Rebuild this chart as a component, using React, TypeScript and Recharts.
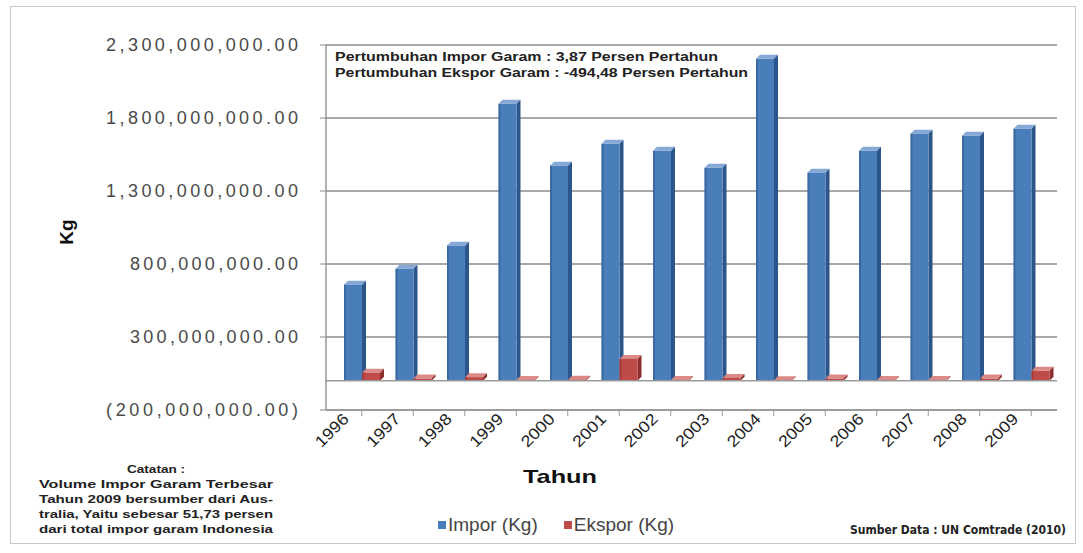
import React from 'react';
import {
  BarChart,
  Bar,
  XAxis,
  YAxis,
  CartesianGrid,
  ReferenceLine,
  Legend,
} from 'recharts';

// Tahun (categories)
const years = ['1996', '1997', '1998', '1999', '2000', '2001', '2002', '2003', '2004', '2005', '2006', '2007', '2008', '2009'];

// Volume impor garam (Kg)
const imporKg = [
  658e6, 767e6, 925e6, 1897e6, 1473e6, 1623e6, 1575e6,
  1459e6, 2205e6, 1425e6, 1575e6, 1692e6, 1678e6, 1726e6,
];

// Volume ekspor garam (Kg)
const eksporKg = [
  55e6, 15e6, 25e6, 5e6, 8e6, 150e6, 5e6,
  20e6, 3e6, 15e6, 5e6, 5e6, 15e6, 68e6,
];

const yTicks = [-200e6, 300e6, 800e6, 1300e6, 1800e6, 2300e6];

const annotationLines = [
  'Pertumbuhan Impor Garam : 3,87 Persen Pertahun',
  'Pertumbuhan Ekspor Garam : -494,48 Persen Pertahun',
];

const noteLines = [
  'Catatan :',
  'Volume Impor Garam Terbesar',
  'Tahun 2009 bersumber dari Aus-',
  'tralia, Yaitu sebesar 51,73 persen',
  'dari total impor garam Indonesia',
];

const sourceText = 'Sumber Data : UN Comtrade (2010)';

const data = years.map((tahun, i) => ({
  tahun,
  impor: imporKg[i],
  ekspor: eksporKg[i],
}));

const FONT = '"Liberation Sans", Arial, sans-serif';
const NARROW = '"DejaVu Sans Condensed", "Liberation Sans", sans-serif';

const fmt = (v: number) => {
  const s = Math.abs(v).toLocaleString('en-US', { minimumFractionDigits: 2, maximumFractionDigits: 2 });
  return v < 0 ? `(${s})` : s;
};

// simple Excel-like 3D column
const Bar3D = (props: any) => {
  const { x, y, width, height, front, side, top } = props;
  if (width == null || height == null) return null;
  const d = 4;
  return (
    <g>
      <polygon
        points={`${x},${y} ${x + d},${y - d} ${x + width + d},${y - d} ${x + width},${y}`}
        fill={top}
      />
      <polygon
        points={`${x + width},${y} ${x + width + d},${y - d} ${x + width + d},${y + height - d} ${x + width},${y + height}`}
        fill={side}
      />
      <rect x={x} y={y} width={width} height={height} fill={front} />
      <rect x={x} y={y} width={2} height={height} fill={side} opacity={0.5} />
    </g>
  );
};

const YTick = (props: any) => {
  const { x, y, payload } = props;
  const label = fmt(payload.value);
  return (
    <text
      x={x}
      y={y}
      dy={6}
      textAnchor="end"
      fontFamily={FONT}
      fontSize={18}
      fill="#4a4a4a"
      textLength={label.length * 12}
      lengthAdjust="spacing"
    >
      {label}
    </text>
  );
};

const XTick = (props: any) => {
  const { x, y, payload } = props;
  return (
    <text
      x={x - 12}
      y={y + 2}
      textAnchor="end"
      fontFamily={FONT}
      fontSize={16}
      fill="#222"
      textLength={40}
      lengthAdjust="spacingAndGlyphs"
      transform={`rotate(-45, ${x - 12}, ${y + 2})`}
    >
      {payload.value}
    </text>
  );
};

const LegendContent = () => (
  <div style={{ display: 'flex', gap: 26, fontFamily: FONT, fontSize: 19, color: '#444', whiteSpace: 'nowrap' }}>
    <span style={{ display: 'flex', alignItems: 'center' }}>
      <span style={{ width: 8, height: 8, background: '#4A7EBB', marginRight: 2 }} />
      Impor (Kg)
    </span>
    <span style={{ display: 'flex', alignItems: 'center' }}>
      <span style={{ width: 8, height: 8, background: '#BE4B48', marginRight: 2 }} />
      Ekspor (Kg)
    </span>
  </div>
);

export default function App() {
  return (
    <div style={{ position: 'relative', width: 1083, height: 553, background: '#fff' }}>
      <style>{'body{margin:0}'}</style>
      <div
        style={{
          position: 'absolute',
          left: 10,
          top: 6,
          width: 1066,
          height: 538,
          border: '1px solid #c8c8c8',
          boxSizing: 'border-box',
        }}
      />
      <BarChart
        width={1083}
        height={553}
        data={data}
        margin={{ top: 45, right: 26, bottom: 103, left: 0 }}
        barGap={0}
        barSize={18}
        style={{ position: 'absolute', left: 0, top: 0 }}
      >
        <CartesianGrid vertical={false} stroke="#a8a8a8" strokeWidth={2} />
        <XAxis
          dataKey="tahun"
          height={40}
          padding={{ left: 10, right: 0 }}
          interval={0}
          tick={<XTick />}
          tickLine={{ stroke: '#999' }}
          axisLine={{ stroke: '#999', strokeWidth: 1.5 }}
        />
        <YAxis
          width={326}
          domain={[-200e6, 2300e6]}
          ticks={yTicks}
          interval={0}
          tick={<YTick />}
          tickMargin={22}
          tickLine={{ stroke: '#888' }}
          axisLine={{ stroke: '#999', strokeWidth: 1.5 }}
        />
        <ReferenceLine y={0} stroke="#9a9a9a" strokeWidth={1.5} />
        <Bar
          dataKey="impor"
          name="Impor (Kg)"
          isAnimationActive={false}
          shape={(p: any) => <Bar3D {...p} front="#4A7EBB" side="#2C5689" top="#86A8D6" />}
        />
        <Bar
          dataKey="ekspor"
          name="Ekspor (Kg)"
          isAnimationActive={false}
          shape={(p: any) => <Bar3D {...p} front="#BE4B48" side="#8C2E2C" top="#DB8A87" />}
        />
        <Legend
          layout="horizontal"
          verticalAlign="middle"
          align="center"
          content={<LegendContent />}
          wrapperStyle={{ position: 'absolute', left: 438, top: 514, width: 300, height: 24 }}
        />
      </BarChart>
      <svg
        width={1083}
        height={553}
        style={{ position: 'absolute', left: 0, top: 0, pointerEvents: 'none' }}
      >
        <text
          x={68}
          y={232}
          textAnchor="middle"
          dominantBaseline="middle"
          fontFamily={FONT}
          fontWeight="bold"
          fontSize={19}
          fill="#111"
          transform="rotate(-90, 68, 232)"
        >
          Kg
        </text>
        <text
          x={560}
          y={478}
          textAnchor="middle"
          dominantBaseline="middle"
          fontFamily={FONT}
          fontWeight="bold"
          fontSize={19}
          fill="#111"
          textLength={74}
          lengthAdjust="spacingAndGlyphs"
        >
          Tahun
        </text>
        {annotationLines.map((t, i) => (
          <text
            key={t}
            x={335}
            y={58 + i * 16}
            dominantBaseline="middle"
            fontFamily={FONT}
            fontWeight="bold"
            fontSize={12}
            fill="#222"
            textLength={i === 0 ? 383 : 413}
            lengthAdjust="spacingAndGlyphs"
          >
            {t}
          </text>
        ))}
        {noteLines.map((t, i) => (
          <text
            key={t}
            x={156}
            y={470 + i * 15}
            textAnchor="middle"
            dominantBaseline="middle"
            fontFamily={FONT}
            fontWeight="bold"
            fontSize={11}
            fill="#222"
            textLength={i === 0 ? 58 : 234}
            lengthAdjust="spacingAndGlyphs"
          >
            {t}
          </text>
        ))}
        <text
          x={1066}
          y={530}
          textAnchor="end"
          dominantBaseline="middle"
          fontFamily={NARROW}
          fontWeight="bold"
          fontSize={12}
          fill="#222"
        >
          {sourceText}
        </text>
      </svg>
    </div>
  );
}
